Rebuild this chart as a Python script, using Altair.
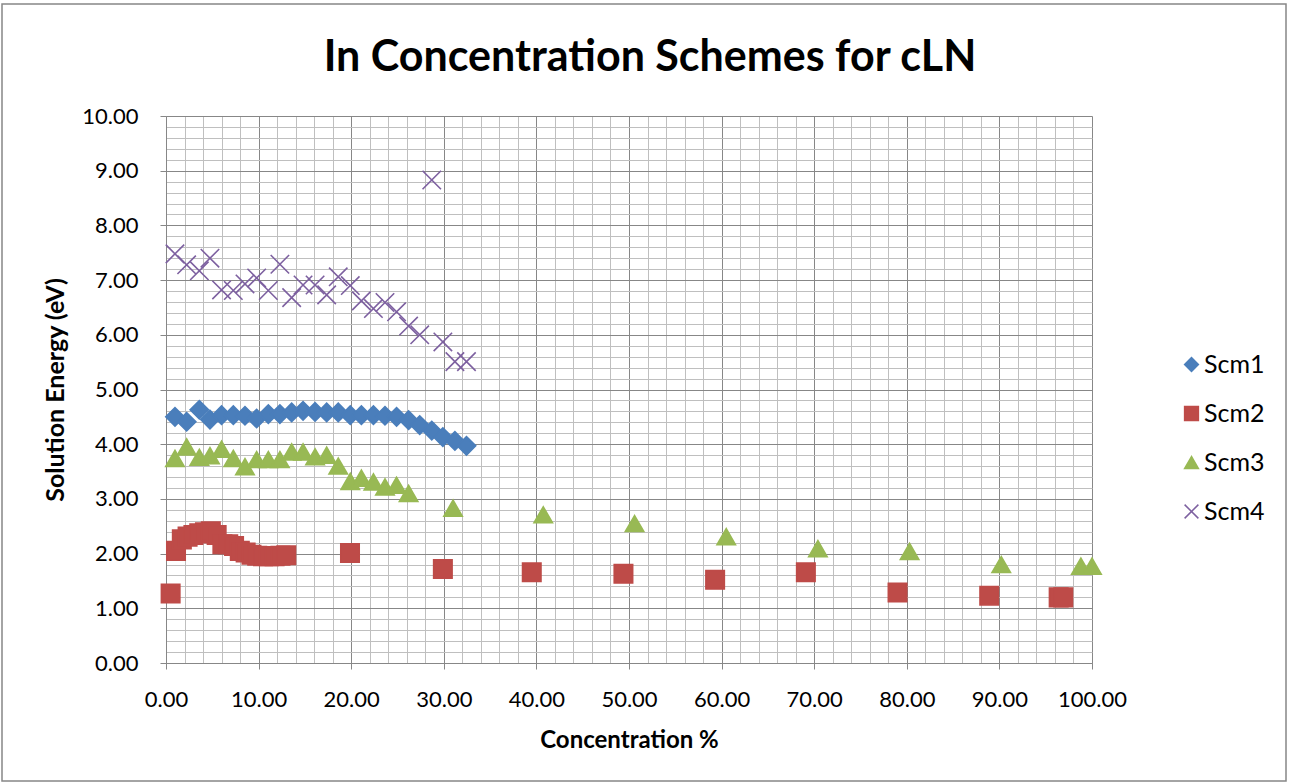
import altair as alt
import pandas as pd

# ---- data ----
x_dense = [0.97, 2.23, 3.60, 4.75, 6.00, 7.27, 8.53, 9.79, 11.05, 12.30, 13.57, 14.80, 16.10,
           17.35, 18.60, 19.90, 21.10, 22.40, 23.65, 24.90, 26.20, 27.40, 28.70, 29.90, 31.20, 32.45]

scm1_x = x_dense
scm1_y = [4.50, 4.41, 4.63, 4.45, 4.53, 4.53, 4.52, 4.47, 4.55, 4.55, 4.58, 4.61, 4.59,
          4.58, 4.58, 4.53, 4.53, 4.53, 4.52, 4.50, 4.44, 4.35, 4.25, 4.13, 4.06, 3.97]

scm2_x = [0.50, 1.08, 1.71, 2.33, 2.96, 3.59, 4.21, 4.84, 5.47, 6.09, 6.72, 7.35, 7.97, 8.60,
          9.23, 9.85, 10.48, 11.11, 11.73, 12.36, 12.99,
          19.87, 29.90, 39.50, 49.40, 59.30, 69.10, 79.00, 88.90, 96.40, 96.90]
scm2_y = [1.27, 2.05, 2.26, 2.31, 2.34, 2.37, 2.39, 2.41, 2.34, 2.17, 2.17, 2.14, 2.05, 2.02,
          1.98, 1.96, 1.95, 1.95, 1.95, 1.96, 1.97,
          2.01, 1.72, 1.66, 1.63, 1.52, 1.66, 1.29, 1.23, 1.20, 1.20]

scm3_x = x_dense[:21] + [31.00, 40.74, 50.60, 60.50, 70.40, 80.30, 90.20, 98.80, 100.00]
scm3_y = [3.74, 3.95, 3.76, 3.79, 3.91, 3.74, 3.59, 3.72, 3.72, 3.72, 3.86, 3.86, 3.77,
          3.80, 3.60, 3.32, 3.38, 3.31, 3.22, 3.25, 3.10,
          2.83, 2.71, 2.55, 2.31, 2.09, 2.04, 1.80, 1.77, 1.77]

scm4_x = x_dense
scm4_y = [7.48, 7.28, 7.17, 7.40, 6.82, 6.81, 6.93, 7.04, 6.81, 7.29, 6.68, 6.91, 6.91,
          6.73, 7.06, 6.90, 6.62, 6.48, 6.59, 6.42, 6.16, 6.00, 8.83, 5.87, 5.51, 5.51]

series_names = ["Scm1", "Scm2", "Scm3", "Scm4"]
x_major = [0, 10, 20, 30, 40, 50, 60, 70, 80, 90, 100]
y_major = [0, 1, 2, 3, 4, 5, 6, 7, 8, 9, 10]
x_minor = [v for v in range(0, 101, 2) if v % 10 != 0]
y_minor = [round(v * 0.2, 1) for v in range(0, 51) if v % 5 != 0]

rows = []
for name, xs_, ys_ in zip(series_names, [scm1_x, scm2_x, scm3_x, scm4_x], [scm1_y, scm2_y, scm3_y, scm4_y]):
    for xv, yv in zip(xs_, ys_):
        rows.append({"series": name, "conc": xv, "energy": yv})
df = pd.DataFrame(rows)

stroke_cols = ["#4A7EBB", "#BE4B48", "#98B954", "#7D60A0"]
fill_cols = ["#4A7EBB", "#BE4B48", "#98B954", "transparent"]
shapes = ["diamond", "square", "triangle-up", "M-1,-1L1,1M-1,1L1,-1"]

FONT = "Lato"
W, H = 926, 547
L, T = 166, 116

xs = alt.Scale(domain=[0, 100], nice=False, zero=False)
ys = alt.Scale(domain=[0, 10], nice=False, zero=False)

base = alt.Chart(df)

minor = base.mark_point(opacity=0).encode(
    x=alt.X("conc:Q", scale=xs, axis=alt.Axis(values=x_minor, grid=True, gridColor="#BFBFBF",
                                              gridWidth=1, labels=False, ticks=False, domain=False,
                                              orient="top", title=None)),
    y=alt.Y("energy:Q", scale=ys, axis=alt.Axis(values=y_minor, grid=True, gridColor="#BFBFBF",
                                                gridWidth=1, labels=False, ticks=False, domain=False,
                                                orient="right", title=None)),
)

points = base.mark_point(filled=False, size=340, strokeWidth=1.6, opacity=1).encode(
    x=alt.X("conc:Q", scale=xs, axis=alt.Axis(
        values=x_major, format=".2f", grid=True, gridColor="#878787", gridWidth=1,
        tickColor="#878787", tickSize=6, domainColor="#878787",
        labelFont=FONT, labelFontSize=22, labelColor="#000000", labelPadding=20,
        labelFlush=False, labelOverlap=False, labelBound=False,
        title="Concentration %", titleFont=FONT, titleFontSize=24, titleFontWeight="bold",
        titleColor="#000000", titlePadding=18, orient="bottom")),
    y=alt.Y("energy:Q", scale=ys, axis=alt.Axis(
        values=y_major, format=".2f", grid=True, gridColor="#878787", gridWidth=1,
        tickColor="#878787", tickSize=6, domainColor="#878787",
        labelFont=FONT, labelFontSize=22, labelColor="#000000", labelPadding=22,
        labelFlush=False, labelOverlap=False, labelBound=False,
        title="Solution Energy (eV)", titleFont=FONT, titleFontSize=25, titleFontWeight="bold",
        titleColor="#000000", titlePadding=13, orient="left")),
    stroke=alt.Stroke("series:N", scale=alt.Scale(domain=series_names, range=stroke_cols), title=None),
    fill=alt.Fill("series:N", scale=alt.Scale(domain=series_names, range=fill_cols), title=None),
    shape=alt.Shape("series:N", scale=alt.Scale(domain=series_names, range=shapes), title=None),
    order=alt.Order("series:N"),
)

border = alt.Chart(alt.Data(values=[{"a": 1}])).mark_rect(
    fill="transparent", stroke="#878787", strokeWidth=1.5
).encode(
    x=alt.value(2 - L), x2=alt.value(1286 - L), y=alt.value(4 - T), y2=alt.value(781 - T)
)

chart = alt.layer(minor, points, border).resolve_axis(
    x="independent", y="independent"
).properties(
    width=W, height=H,
    autosize=alt.AutoSizeParams(type="none"),
    padding={"left": L, "top": T, "right": 1289 - L - W, "bottom": 784 - T - H},
    background="white",
    title=alt.TitleParams("In Concentration Schemes for cLN", font=FONT, fontSize=43,
                          fontWeight="bold", color="#000000", anchor="middle", frame="group",
                          dx=21, offset=-77),
).configure_view(stroke=None).configure_legend(
    orient="none", legendX=1013, legendY=236, labelFont=FONT, labelFontSize=25,
    labelColor="#000000", symbolSize=190, symbolStrokeWidth=1.5, rowPadding=23,
    labelOffset=0,
)

chart.save("out.html", embed_options={"renderer": "svg", "actions": False})
